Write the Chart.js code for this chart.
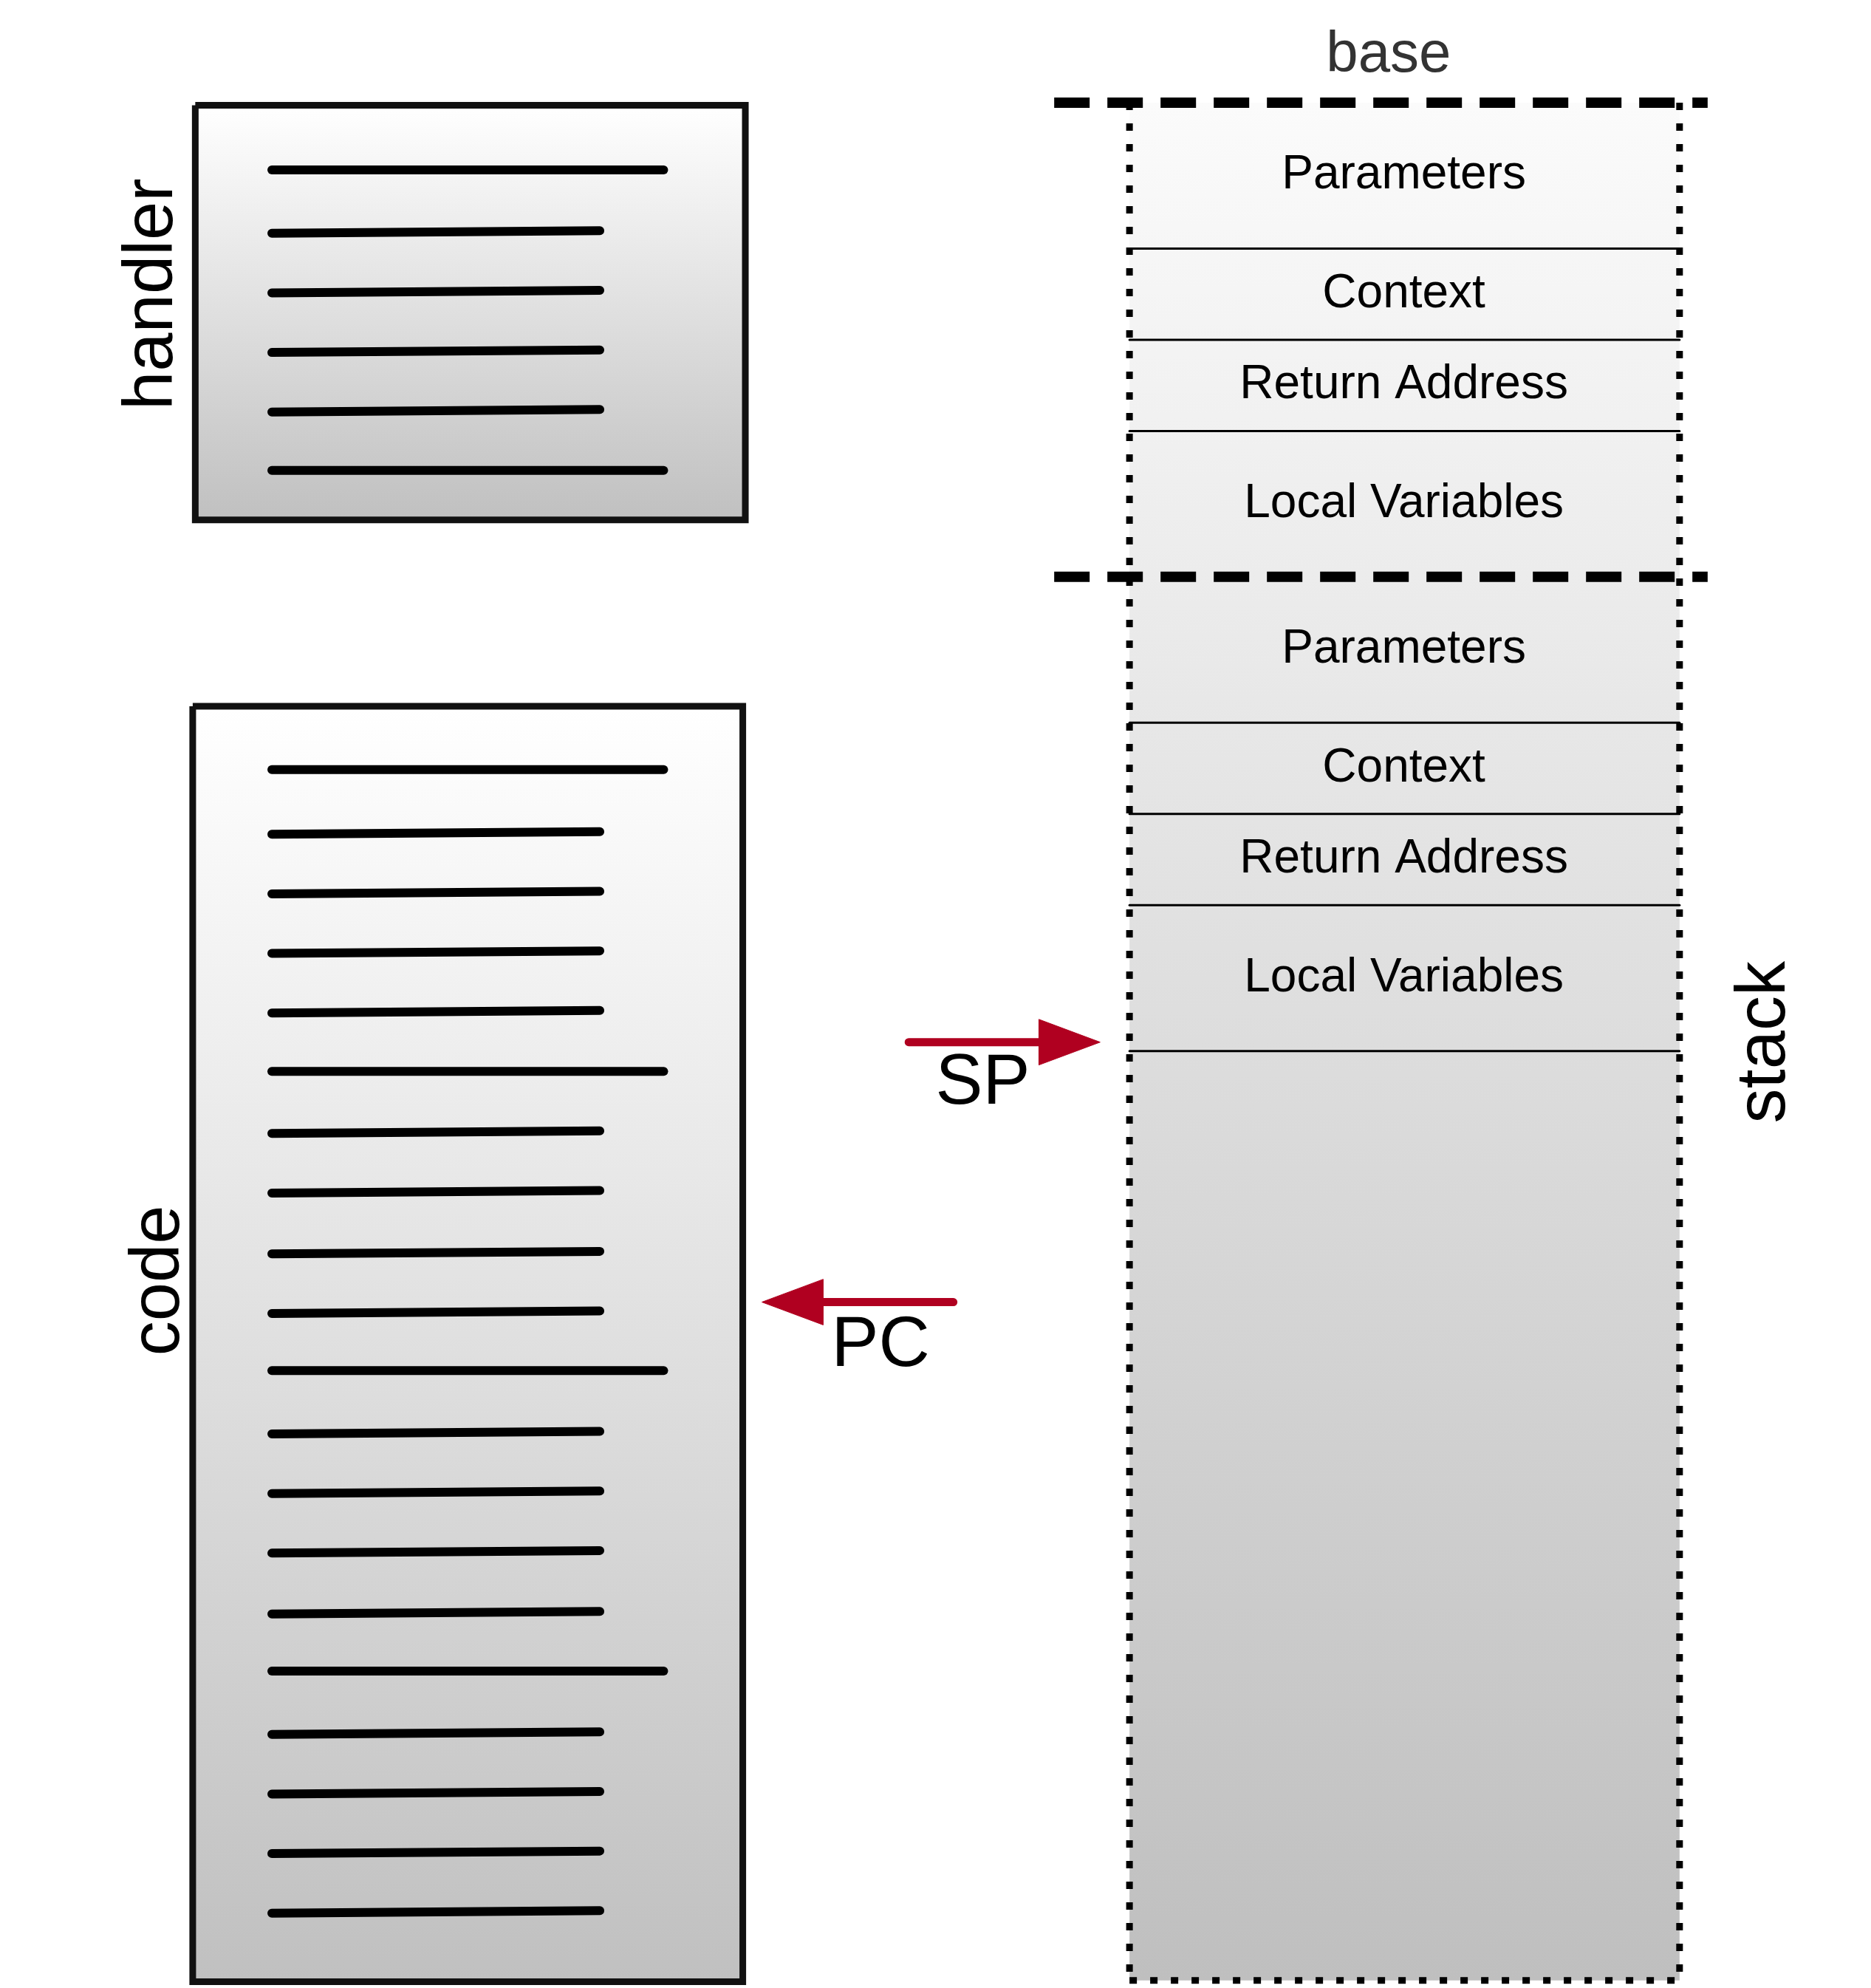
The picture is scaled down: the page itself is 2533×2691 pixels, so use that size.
<!DOCTYPE html>
<html>
<head>
<meta charset="utf-8">
<script src="https://cdn.jsdelivr.net/npm/chart.js@4/dist/chart.umd.min.js"></script>
<style>
html,body{margin:0;padding:0;background:#fff;}
#wrap{width:2533px;height:2691px;}
</style>
</head>
<body>
<div id="wrap"><canvas id="diagram"></canvas></div>
<script>
// diagram units (y grows downward)
const handlerBox = [153, 83, 584, 410];
const handlerLineYs = [134, 183, 230, 277, 324, 371];
const handlerLineLong = [1, 0, 0, 0, 0, 1];
const codeBox = [151, 557, 582, 1563];
const codeLineYs = [607, 657, 704, 751, 798, 845, 893, 940, 988, 1035, 1081, 1130, 1177, 1224, 1272, 1318, 1367, 1414, 1461, 1508];
const codeLineLong = [1, 0, 0, 0, 0, 1, 0, 0, 0, 0, 1, 0, 0, 0, 0, 1, 0, 0, 0, 0];
const stackX = [885, 1316];
const stackTop = 81, stackBottom = 1562;
const cellLabels = ['Parameters', 'Context', 'Return Address', 'Local Variables', 'Parameters', 'Context', 'Return Address', 'Local Variables'];
const cellEdges = [81, 196, 268, 340, 455, 570, 642, 714, 829];
const frameLines = [81, 455];
const spArrow = [712, 862, 822];
const pcArrow = [747, 597, 1027];

const W = 1466, H = 1568;
const red = '#b00020';

function gradFill(top, bottom, c0, c1) {
  return function (ctx) {
    const ch = ctx.chart;
    if (!ch.chartArea) return c1;
    const y = ch.scales.y;
    const g = ch.ctx.createLinearGradient(0, y.getPixelForValue(top), 0, y.getPixelForValue(bottom));
    g.addColorStop(0, c0);
    g.addColorStop(1, c1);
    return g;
  };
}
function rect(b) {
  return [{x: b[0], y: b[1]}, {x: b[2], y: b[1]}, {x: b[2], y: b[3]}, {x: b[0], y: b[3]}, {x: b[0], y: b[1]}];
}
function seg(x1, y1, x2, y2, color, width, dash) {
  return {data: [{x: x1, y: y1}, {x: x2, y: y2}], showLine: true, borderColor: color, borderWidth: width,
    borderDash: dash || [], pointRadius: 0, borderCapStyle: dash ? 'butt' : 'round', fill: false, order: 0};
}

const datasets = [];
// stack background
datasets.push({data: rect([stackX[0], stackTop, stackX[1], stackBottom]), showLine: true, borderWidth: 0,
  borderColor: 'rgba(0,0,0,0)', pointRadius: 0, fill: 'shape', order: 10,
  backgroundColor: gradFill(stackTop, stackBottom, '#fbfbfb', '#bfbfbf')});
// cell separators
cellEdges.forEach(function (y) {
  if (frameLines.indexOf(y) < 0) datasets.push(seg(stackX[0], y, stackX[1], y, '#000', 3));
});
// dotted sides
datasets.push(seg(stackX[0], stackTop, stackX[0], stackBottom, '#000', 9, [10, 18]));
datasets.push(seg(stackX[1], stackTop, stackX[1], stackBottom, '#000', 9, [10, 18]));
datasets.push(seg(stackX[0], stackBottom, stackX[1], stackBottom, '#000', 9, [10, 18]));
// frame dashes
frameLines.forEach(function (y) { datasets.push(seg(826, y, 1338, y, '#000', 14, [48, 24])); });
// boxes
[[handlerBox, handlerLineYs, handlerLineLong], [codeBox, codeLineYs, codeLineLong]].forEach(function (b) {
  datasets.push({data: rect(b[0]), showLine: true, borderColor: '#111', borderWidth: 9, pointRadius: 0, order: 10,
    borderJoinStyle: 'miter', fill: 'shape', backgroundColor: gradFill(b[0][1], b[0][3], '#ffffff', '#c0c0c0')});
  b[1].forEach(function (y, i) {
    datasets.push(seg(213, y + (b[2][i] ? 0 : 1), b[2][i] ? 520 : 470, y - (b[2][i] ? 0 : 1), '#000', 12));
  });
});
// arrows
[spArrow, pcArrow].forEach(function (a) {
  const dir = a[1] > a[0] ? 1 : -1;
  const base = a[1] - dir * 48;
  datasets.push(seg(a[0], a[2], base, a[2], red, 11));
  datasets.push({data: [{x: base, y: a[2] - 18}, {x: a[1], y: a[2]}, {x: base, y: a[2] + 18}, {x: base, y: a[2] - 18}],
    showLine: true, borderWidth: 1, borderColor: red, backgroundColor: red, pointRadius: 0, fill: 'shape', order: 0});
});

const texts = [];
cellLabels.forEach(function (t, i) { texts.push([t, 1100, (cellEdges[i] + cellEdges[i + 1]) / 2, 64, 0, '#000']); });
texts.push(['base', 1088, 44, 78, 0, '#333']);
texts.push(['handler', 120, 232, 94, -1, '#000']);
texts.push(['code', 125, 1010, 94, -1, '#000']);
texts.push(['stack', 1383, 822, 94, -1, '#000']);
texts.push(['SP', 770, 855, 96, 0, '#000']);
texts.push(['PC', 690, 1062, 96, 0, '#000']);

const textPlugin = {
  id: 'labels',
  afterDatasetsDraw: function (chart) {
    const c = chart.ctx, sx = chart.scales.x, sy = chart.scales.y;
    texts.forEach(function (t) {
      c.save();
      c.translate(sx.getPixelForValue(t[1]), sy.getPixelForValue(t[2]));
      if (t[4]) c.rotate(-Math.PI / 2);
      c.font = t[3] + 'px "Liberation Sans", Arial, sans-serif';
      c.fillStyle = t[5];
      c.textAlign = 'center';
      c.textBaseline = 'middle';
      c.fillText(t[0], 0, 0);
      c.restore();
    });
  }
};

new Chart(document.getElementById('diagram'), {
  type: 'scatter',
  data: {datasets: datasets},
  options: {
    responsive: true, maintainAspectRatio: false, animation: false,
    layout: {padding: 0},
    plugins: {legend: {display: false}, tooltip: {enabled: false}},
    scales: {
      x: {type: 'linear', min: 0, max: W, display: false},
      y: {type: 'linear', min: 0, max: H, reverse: true, display: false}
    }
  },
  plugins: [textPlugin]
});
</script>
</body>
</html>
